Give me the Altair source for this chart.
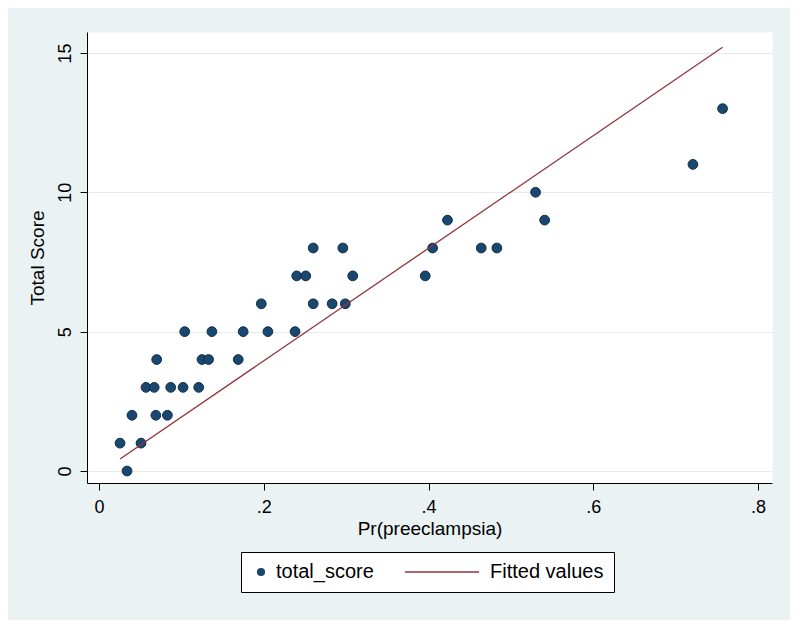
import altair as alt
import pandas as pd

# ---- data ----
pr_preeclampsia = [0.034, 0.0255, 0.051, 0.040, 0.069, 0.083, 0.057, 0.067, 0.087, 0.102,
                   0.121, 0.070, 0.125, 0.133, 0.169, 0.104, 0.137, 0.175, 0.205, 0.238,
                   0.197, 0.260, 0.283, 0.299, 0.240, 0.251, 0.308, 0.396, 0.260, 0.296,
                   0.405, 0.464, 0.483, 0.423, 0.541, 0.530, 0.721, 0.757]
total_score = [0, 1, 1, 2, 2, 2, 3, 3, 3, 3,
               3, 4, 4, 4, 4, 5, 5, 5, 5, 5,
               6, 6, 6, 6, 7, 7, 7, 7, 8, 8,
               8, 8, 8, 9, 9, 10, 11, 13]

fitted_pr = [0.0255, 0.757]
fitted_score = [0.43, 15.2]

x_ticks = [0, 0.2, 0.4, 0.6, 0.8]
y_ticks = [0, 5, 10, 15]

series_names = ["total_score", "Fitted values"]
series_colors = ["#1a476f", "#90353b"]

pts = pd.DataFrame({"pr": pr_preeclampsia, "score": total_score,
                    "series": series_names[0]})
fit = pd.DataFrame({"pr": fitted_pr, "score": fitted_score,
                    "series": series_names[1]})

FONT = "Liberation Sans"

x_enc = alt.X(
    "pr:Q",
    scale=alt.Scale(domain=[-0.0146, 0.817], nice=False, zero=False),
    axis=alt.Axis(
        values=x_ticks,
        labelExpr="datum.value == 0 ? '0' : replace(format(datum.value, '.1f'), '0.', '.')",
        title="Pr(preeclampsia)",
        grid=False,
        labelPadding=8,
        titlePadding=3,
    ),
)
y_enc = alt.Y(
    "score:Q",
    scale=alt.Scale(domain=[-0.43, 15.75], nice=False, zero=False),
    axis=alt.Axis(
        values=y_ticks,
        title="Total Score",
        grid=True,
        labelAngle=270,
        labelAlign="center",
        labelBaseline="bottom",
        labelPadding=6,
        titlePadding=9,
    ),
)

is_pts = "datum.value === 'total_score'"
legend = alt.Legend(
    title=None,
    orient="none",
    legendX=154,
    legendY=520,
    direction="horizontal",
    strokeColor="black",
    fillColor="white",
    padding=10,
    columnPadding=27,
    labelFontSize=20,
    labelFont=FONT,
    labelColor="black",
    labelOffset=5,
    symbolType=alt.ExprRef(expr=f"{is_pts} ? 'circle' : 'M-20.9,0H1.2'"),
    symbolSize=45,
    symbolFillColor=alt.ExprRef(expr=f"{is_pts} ? '#1a476f' : 'transparent'"),
    symbolStrokeColor=alt.ExprRef(expr=f"{is_pts} ? '#0f2c48' : '#90353b'"),
    symbolStrokeWidth=1.5,
    symbolOpacity=1,
)

color_enc = alt.Color(
    "series:N",
    scale=alt.Scale(domain=series_names, range=series_colors),
    legend=legend,
)

points = alt.Chart(pts).mark_point(
    filled=True, size=95, opacity=1, stroke="#0f2c48", strokeWidth=1
).encode(x=x_enc, y=y_enc, color=color_enc)

line = alt.Chart(fit).mark_line(strokeWidth=1.3).encode(
    x=x_enc, y=y_enc, color=color_enc
)

chart = (
    alt.layer(points, line)
    .properties(
        width=685,
        height=451,
        padding={"left": 79, "top": 24, "right": 18, "bottom": 137},
        autosize=alt.AutoSizeParams(type="none"),
        background="#eaf2f3",
    )
    .configure_view(fill="white", strokeOpacity=0)
    .configure_axis(
        domainColor="black",
        domainWidth=1,
        tickColor="black",
        tickSize=7,
        tickWidth=1,
        labelFont=FONT,
        labelFontSize=18,
        labelColor="black",
        titleFont=FONT,
        titleFontSize=19,
        titleFontWeight="normal",
        titleColor="black",
        gridColor="#e3eaec",
        gridWidth=1,
    )
)

chart.save("out.html", embed_options={"renderer": "svg", "actions": False})
